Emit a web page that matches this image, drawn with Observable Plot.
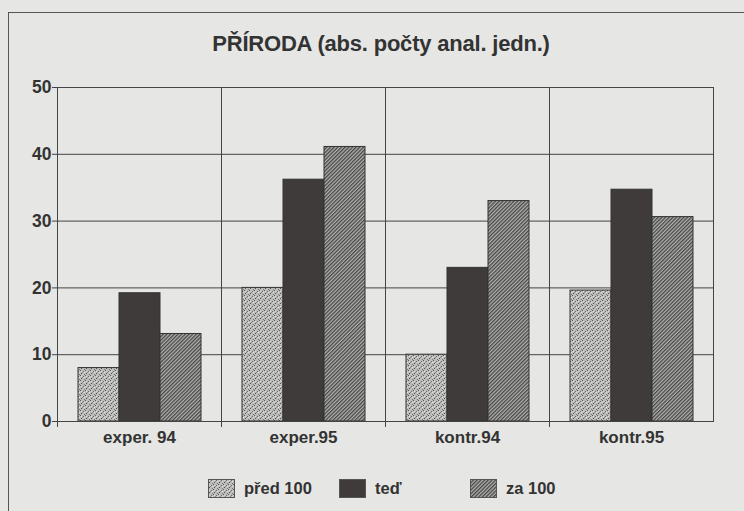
<!DOCTYPE html>
<html>
<head>
<meta charset="utf-8">
<script src="https://cdn.jsdelivr.net/npm/d3@7"></script>
<script src="https://cdn.jsdelivr.net/npm/@observablehq/plot@0.6"></script>
<style>
  html, body { margin: 0; padding: 0; background: #e6e6e4; }
  body { width: 744px; height: 511px; overflow: hidden; position: relative; font-family: "Liberation Sans", Arial, sans-serif; color: #333; }
  #frame { position: absolute; left: 8px; top: 12px; width: 760px; height: 520px; border-left: 1.5px solid #555; border-top: 1.5px solid #555; }
  #title { position: absolute; left: 0; top: 31px; width: 762px; text-align: center; font-weight: bold; font-size: 22px; letter-spacing: -0.2px; color: #333; }
  #chart { position: absolute; left: 0; top: 70px; }
  #legend { position: absolute; left: 0; top: 478px; width: 744px; height: 22px; font-size: 16.5px; font-weight: bold; color: #333; }
  .item { position: absolute; top: 0; display: flex; align-items: center; height: 20px; }
  .item svg { margin-right: 9px; }
</style>
</head>
<body>
<div id="frame"></div>
<div id="title">PŘÍRODA (abs. počty anal. jedn.)</div>
<div id="chart"></div>
<div id="legend"></div>
<script>
const categories = ["exper. 94", "exper.95", "kontr.94", "kontr.95"];
const series = ["před 100", "teď", "za 100"];
const pred100 = [8, 20, 10, 19.6];
const ted = [19.2, 36.2, 23, 34.7];
const za100 = [13.1, 41.1, 33, 30.6];
const yTicks = [0, 10, 20, 30, 40, 50];

const fills = ["url(#stipple)", "url(#solid)", "url(#hatch)"];
const legendLeft = [208, 339, 470];

const data = [];
categories.forEach((c, i) => {
  data.push({category: c, series: series[0], value: pred100[i]});
  data.push({category: c, series: series[1], value: ted[i]});
  data.push({category: c, series: series[2], value: za100[i]});
});

const defs = `
<defs>
  <pattern id="stipple" width="5" height="5" patternUnits="userSpaceOnUse">
    <rect width="5" height="5" fill="#bdbdbb"/>
    <rect x="0" y="0" width="1" height="1" fill="#5a5a5a"/>
    <rect x="3" y="1" width="1" height="1" fill="#6a6a6a"/>
    <rect x="1" y="3" width="1" height="1" fill="#505050"/>
    <rect x="4" y="4" width="1" height="1" fill="#787878"/>
    <rect x="2" y="2" width="1" height="1" fill="#8a8a8a"/>
    <rect x="4" y="2" width="1" height="1" fill="#e0e0e0"/>
    <rect x="1" y="1" width="1" height="1" fill="#dadada"/>
  </pattern>
  <pattern id="solid" width="4" height="4" patternUnits="userSpaceOnUse">
    <rect width="4" height="4" fill="#3f3b3b"/>
  </pattern>
  <pattern id="hatch" width="2.6" height="2.6" patternUnits="userSpaceOnUse" patternTransform="rotate(45)">
    <rect width="2.6" height="2.6" fill="#b2b2b0"/>
    <rect width="1.3" height="2.6" fill="#464646"/>
  </pattern>
</defs>`;

const chart = Plot.plot({
  width: 744,
  height: 385,
  marginTop: 17,
  marginBottom: 34,
  marginLeft: 57,
  marginRight: 31,
  style: {background: "transparent", fontFamily: "Liberation Sans, Arial, sans-serif", fontSize: "16px", fontWeight: "bold", color: "#333"},
  fx: {domain: categories, padding: 0, label: null},
  x: {domain: series, paddingInner: 0, paddingOuter: 0.5, axis: null},
  y: {domain: [0, 50], ticks: yTicks, label: null},
  color: {type: "ordinal", domain: series, range: fills},
  marks: [
    Plot.gridY(yTicks, {stroke: "#444", strokeOpacity: 1, strokeWidth: 1}),
    Plot.barY(data, {fx: "category", x: "series", y: "value", fill: "series", stroke: "#333", strokeWidth: 1}),
    Plot.frame({stroke: "#444", strokeWidth: 1}),
    Plot.frame({anchor: "left", insetBottom: -5, stroke: "#444", strokeWidth: 1}),
    Plot.axisY({ticks: yTicks, tickSize: 5, tickPadding: 1, stroke: "#444", fill: "#333", fontSize: 17.5, fontWeight: "bold"}),
    Plot.axisFx({anchor: "bottom", tickSize: 0, tickPadding: 9, fill: "#333", fontSize: 17, fontWeight: "bold"})
  ]
});
chart.insertAdjacentHTML("afterbegin", defs);
document.getElementById("chart").appendChild(chart);

const legend = document.getElementById("legend");
series.forEach((s, i) => {
  const item = document.createElement("div");
  item.className = "item";
  item.style.left = legendLeft[i] + "px";
  item.innerHTML = `<svg width="27" height="19"><rect x="0.5" y="0.5" width="26" height="18" fill="${fills[i]}" stroke="#555"/></svg><span>${s}</span>`;
  legend.appendChild(item);
});
</script>
</body>
</html>
